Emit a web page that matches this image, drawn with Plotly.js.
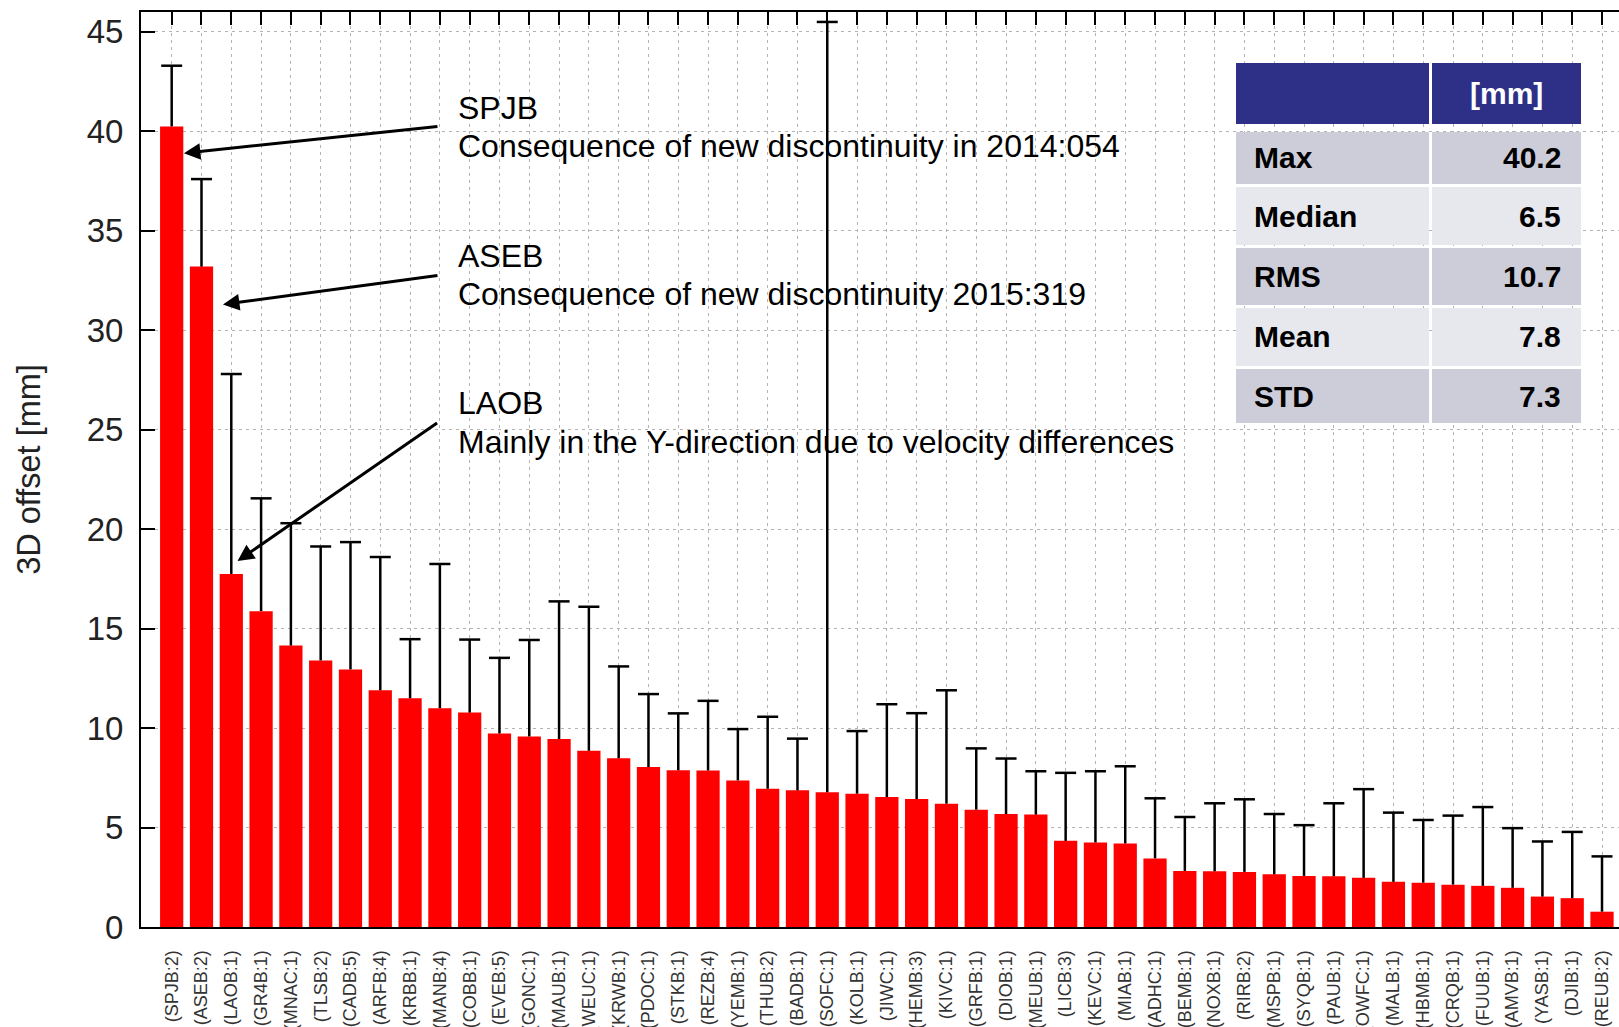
<!DOCTYPE html>
<html><head><meta charset="utf-8">
<script src="https://cdn.plot.ly/plotly-3.0.1.min.js"></script>
<style>html,body{margin:0;padding:0;overflow:hidden;background:#fff}</style>
</head><body><div id="chart" style="width:1619px;height:1027px"></div>
<script>
const stations = ['(SPJB:2)','(ASEB:2)','(LAOB:1)','(GR4B:1)','(MNAC:1)','(TLSB:2)','(CADB:5)','(ARFB:4)','(KRBB:1)','(MANB:4)',
  '(COBB:1)','(EVEB:5)','(GONC:1)','(MAUB:1)','(WEUC:1)','(KRWB:1)','(PDOC:1)','(STKB:1)','(REZB:4)','(YEMB:1)',
  '(THUB:2)','(BADB:1)','(SOFC:1)','(KOLB:1)','(JIWC:1)','(HEMB:3)','(KIVC:1)','(GRFB:1)','(DIOB:1)','(MEUB:1)',
  '(LICB:3)','(KEVC:1)','(MIAB:1)','(ADHC:1)','(BEMB:1)','(NOXB:1)','(RIRB:2)','(MSPB:1)','(SYQB:1)','(PAUB:1)',
  '(OWFC:1)','(MALB:1)','(HBMB:1)','(CRQB:1)','(FUUB:1)','(AMVB:1)','(YASB:1)','(DJIB:1)','(REUB:2)'];
const offsets = [40.25,33.2,17.75,15.88,14.15,13.4,12.95,11.9,11.5,11.0,
  10.78,9.73,9.58,9.45,8.86,8.48,8.04,7.88,7.87,7.37,
  6.95,6.87,6.78,6.7,6.53,6.43,6.2,5.9,5.68,5.65,
  4.33,4.25,4.2,3.45,2.82,2.8,2.77,2.65,2.57,2.55,
  2.47,2.27,2.23,2.13,2.07,1.97,1.53,1.45,0.77];
const errTop = [43.3,37.6,27.8,21.55,20.3,19.13,19.35,18.6,14.47,18.25,
  14.45,13.53,14.43,16.37,16.1,13.1,11.71,10.74,11.37,9.95,
  10.57,9.47,45.5,9.85,11.2,10.75,11.9,8.98,8.47,7.83,
  7.75,7.83,8.08,6.47,5.53,6.22,6.42,5.68,5.12,6.22,
  6.93,5.75,5.38,5.6,6.03,4.97,4.3,4.78,3.55];
const statLabels = ['Max','Median','RMS','Mean','STD'];
const statValues = ['40.2','6.5','10.7','7.8','7.3'];
const statUnit = '[mm]';
const yTitle = '3D offset [mm]';
const noteNames = ['SPJB','ASEB','LAOB'];
const noteTexts = ['Consequence of new discontinuity in 2014:054','Consequence of new discontinuity 2015:319','Mainly in the Y-direction due to velocity differences'];

const FONT = 'Liberation Sans, Arial, Helvetica, sans-serif';
const L=141, T=12, W=1478, H=915;
const fx = x => (x-L)/W, fy = y => (T+H-y)/H;

const errUp = errTop.map((v,i)=>v-offsets[i]);

const bars = {
  type:'bar', x:stations, y:offsets, width:0.78,
  marker:{color:'#ff0000', line:{width:0}},
  error_y:{type:'data', symmetric:false, array:errUp, arrayminus:offsets.map(()=>0),
    color:'#000', thickness:2.5, width:0},
  hoverinfo:'x+y'
};
const caps = {type:'scatter', mode:'markers', x:stations, y:errTop,
  marker:{symbol:'line-ew', size:15, color:'#000', line:{color:'#000', width:2.5}},
  hoverinfo:'skip', showlegend:false};
const topTicks = {type:'scatter', mode:'markers', x:stations, y:offsets, xaxis:'x2',
  marker:{opacity:0}, hoverinfo:'skip', showlegend:false};

const shapes = [], annotations = [];
// table
const c1=[1236,1429], c2=[1432,1581];
const hdr=[63,124];
const rows=[[132,184],[187,245],[248,305],[308,366],[369,423]];
const hdrCol='#2e3088', darkRow='#cdcdda', lightRow='#e7e7ee';
[c1,c2].forEach(c=>shapes.push({type:'rect',xref:'paper',yref:'paper',x0:fx(c[0]),x1:fx(c[1]),y0:fy(hdr[1]),y1:fy(hdr[0]),fillcolor:hdrCol,line:{width:0},layer:'above'}));
rows.forEach((r,i)=>{
  const col = i%2===0?darkRow:lightRow;
  [c1,c2].forEach(c=>shapes.push({type:'rect',xref:'paper',yref:'paper',x0:fx(c[0]),x1:fx(c[1]),y0:fy(r[1]),y1:fy(r[0]),fillcolor:col,line:{width:0},layer:'above'}));
  annotations.push({xref:'paper',yref:'paper',x:fx(1252),y:fy((r[0]+r[1])/2),xanchor:'left',yanchor:'middle',showarrow:false,
    text:'<b>'+statLabels[i]+'</b>',font:{family:FONT,size:30,color:'#000'}});
  annotations.push({xref:'paper',yref:'paper',x:fx(1563),y:fy((r[0]+r[1])/2),xanchor:'right',yanchor:'middle',showarrow:false,
    text:'<b>'+statValues[i]+'</b>',font:{family:FONT,size:30,color:'#000'}});
});
annotations.push({xref:'paper',yref:'paper',x:fx((c2[0]+c2[1])/2),y:fy((hdr[0]+hdr[1])/2),xanchor:'center',yanchor:'middle',showarrow:false,
  text:'<b>'+statUnit+'</b>',font:{family:FONT,size:30,color:'#fff'}});

// notes
const noteY = [[108,146],[256,294],[403,442]];
noteNames.forEach((n,i)=>{
  annotations.push({xref:'paper',yref:'paper',x:fx(456),y:fy(noteY[i][0]),xanchor:'left',yanchor:'middle',showarrow:false,
    text:n,font:{family:FONT,size:32,color:'#000'}});
  annotations.push({xref:'paper',yref:'paper',x:fx(456),y:fy(noteY[i][1]),xanchor:'left',yanchor:'middle',showarrow:false,
    text:noteTexts[i],font:{family:FONT,size:32,color:'#000'}});
});
// arrows (head tied to bars)
const arrowHeads = [[0.41,38.9,255,-27],[1.72,31.3,216,-29],[2.21,18.4,201,-139]];
arrowHeads.forEach(a=>annotations.push({xref:'x',yref:'y',x:a[0],y:a[1],ax:a[2],ay:a[3],text:'',showarrow:true,
  arrowhead:2,arrowsize:1.1,arrowwidth:3,arrowcolor:'#000',standoff:0}));

const xr=[-1.03,48.57];
const layout = {
  width:1619, height:1027, margin:{l:L,r:0,t:T,b:1027-T-H},
  paper_bgcolor:'#fff', plot_bgcolor:'#fff', showlegend:false,
  font:{family:FONT,color:'#222'},
  bargap:0.22,
  xaxis:{type:'category', range:xr, tickmode:'linear', tick0:0, dtick:1,
    tickangle:-90, tickfont:{family:FONT,size:18,color:'#333'}, ticks:'', ticklabelstandoff:14,
    showline:true, linecolor:'#000', linewidth:2, mirror:true,
    showgrid:true, gridcolor:'#b4b4b4', gridwidth:1, griddash:'3px,4px', zeroline:false, fixedrange:true},
  xaxis2:{type:'category', overlaying:'x', side:'top', anchor:'y', range:xr, tickmode:'linear', tick0:0, dtick:1,
    ticks:'inside', ticklen:13, tickwidth:2, tickcolor:'#000', showticklabels:false, showgrid:false, showline:false, zeroline:false},
  yaxis:{range:[0,46], tickmode:'linear', tick0:0, dtick:5, ticks:'inside', ticklen:14, tickwidth:2, tickcolor:'#000',
    tickfont:{family:FONT,size:33,color:'#222'}, ticklabelstandoff:9,
    showline:true, linecolor:'#000', linewidth:2, mirror:false,
    showgrid:true, gridcolor:'#b4b4b4', gridwidth:1, griddash:'3px,4px', zeroline:false,
    title:{text:yTitle, font:{family:FONT,size:32.5,color:'#222'}, standoff:36}},
  shapes:shapes, annotations:annotations
};
Plotly.newPlot('chart',[bars,caps,topTicks],layout,{displayModeBar:false,staticPlot:true});
</script></body></html>
